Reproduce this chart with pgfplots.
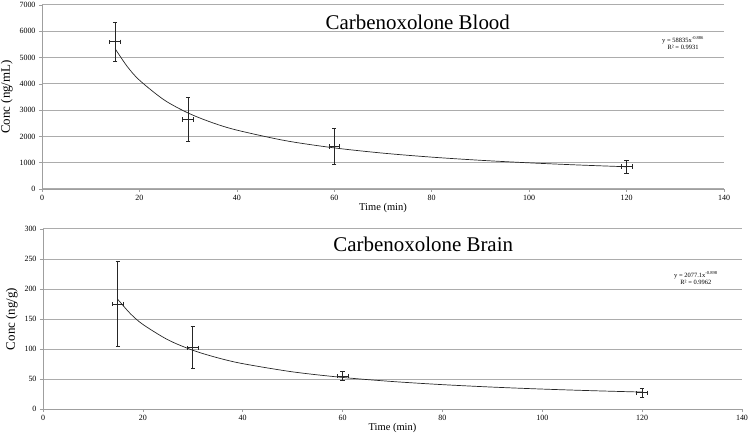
\documentclass[border=0pt]{standalone}
\usepackage{pgfplots}
\pgfplotsset{compat=1.18}
\usepackage{fontspec}
\setmainfont{Liberation Serif}

\pgfplotstableread{
x    y     ex   ey
15   5600  1.1  740
30   2650  1.1  840
60   1620  1.1  680
120  850   1.1  250
}\blood

\pgfplotstableread{
x    y    ex   ey
15   175  1.1  71
30   102  1.1  35
60   55   1.1  8
120  27   1.1  8
}\brain

% trendline points read along the drawn power fits
\pgfplotstableread{
x     y
15    5340
17.5  4660
20    4140
25    3397
30    2890
35    2521
40    2240
50    1838
60    1564
70    1364
80    1212
90    1092
100   995
110   914
120   846
}\bloodfit

\pgfplotstableread{
x     y
15    182.5
17.5  158.9
20    141.0
25    115.4
30    97.9
35    85.3
40    75.6
50    61.9
60    52.6
70    45.8
80    40.6
90    36.5
100   33.2
110   30.5
120   28.2
}\brainfit

\pgfplotsset{
  pk/.style={
    scale only axis,
    axis lines*=left,
    xmin=0, xmax=140,
    xtick={0,20,...,140},
    ymajorgrids,
    grid style={gray!65, line width=1pt},
    axis line style={gray!75, line width=0.8pt},
    tick style={gray!75, line width=0.6pt},
    tick align=outside,
    major tick length=3bp,
    ticklabel style={font=\fontsize{8}{9}\selectfont},
    /pgf/number format/assume math mode=true,
    /pgf/number format/1000 sep={},
    xlabel={Time (min)},
    xlabel style={font=\fontsize{10.5}{12}\selectfont, yshift=4bp},
    ylabel style={font=\fontsize{13}{14}\selectfont},
    clip=false,
  },
  eb/.style={
    draw=none, mark=none,
    error bars/.cd,
      x dir=both, x explicit,
      y dir=both, y explicit,
      error bar style={black!85, line width=0.8pt},
      error mark options={rotate=90, mark size=2.2bp, line width=0.8pt, black!85},
  },
}

\begin{document}
\begin{tikzpicture}
\useasboundingbox (0,0) rectangle (750bp,438bp);

\begin{axis}[pk,
  at={(42bp,249bp)}, anchor=south west,
  width=682bp, height=184bp,
  ymin=0, ymax=7000, ytick={0,1000,...,7000},
  ylabel={Conc (ng/mL)},
]
\addplot[black!85, line width=0.7pt, smooth] table[x=x,y=y] {\bloodfit};
\addplot[eb] table[x=x, y=y, x error=ex, y error=ey] {\blood};
\node[font=\fontsize{21}{23}\selectfont] at (rel axis cs:0.551,0.905) {Carbenoxolone Blood};
\node[font=\fontsize{6.5}{7}\selectfont, align=center] at (rel axis cs:0.94,0.793)
  {y = 58835x\textsuperscript{-0.886}\\R² = 0.9931};
\end{axis}

\begin{axis}[pk,
  at={(43bp,29bp)}, anchor=south west,
  width=699bp, height=180bp,
  ymin=0, ymax=300, ytick={0,50,...,300},
  ylabel={Conc (ng/g)},
]
\addplot[black!85, line width=0.7pt, smooth] table[x=x,y=y] {\brainfit};
\addplot[eb] table[x=x, y=y, x error=ex, y error=ey] {\brain};
\node[font=\fontsize{21}{23}\selectfont] at (rel axis cs:0.544,0.915) {Carbenoxolone Brain};
\node[font=\fontsize{6.5}{7}\selectfont, align=center] at (rel axis cs:0.934,0.728)
  {y = 2077.1x\textsuperscript{-0.898}\\R² = 0.9962};
\end{axis}
\end{tikzpicture}
\end{document}
